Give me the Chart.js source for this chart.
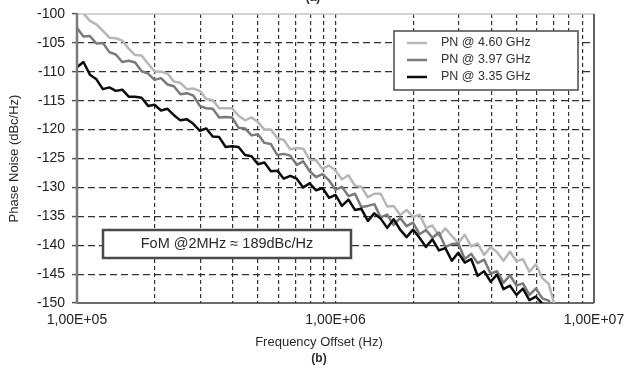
<!DOCTYPE html>
<html>
<head>
<meta charset="utf-8">
<title>Phase Noise vs Frequency Offset</title>
<script src="https://cdn.jsdelivr.net/npm/chart.js@4.4.1/dist/chart.umd.min.js"></script>
<style>
  html, body { margin: 0; padding: 0; background: #fff; }
  #wrap { position: relative; width: 626px; height: 370px; }
</style>
</head>
<body>
<div id="wrap"><canvas id="pnChart"></canvas></div>
<script>
'use strict';

/* ─────────────────────────────────────────────────
   DATA (40 pts / decade)
───────────────────────────────────────────────── */
const freqs = [
  100000, 105900, 112200, 118900, 125900, 133400, 141300, 149600, 158500, 167900,
  177800, 188400, 199500, 211300, 223900, 237100, 251200, 266100, 281800, 298500,
  316200, 335000, 354800, 375800, 398100, 421700, 446700, 473200, 501200, 530900,
  562300, 595700, 631000, 668300, 707900, 749900, 794300, 841400, 891300, 944100,
  1000000, 1059000, 1122000, 1189000, 1259000, 1334000, 1413000, 1496000, 1585000, 1679000,
  1778000, 1884000, 1995000, 2113000, 2239000, 2371000, 2512000, 2661000, 2818000, 2985000,
  3162000, 3350000, 3548000, 3758000, 3981000, 4217000, 4467000, 4732000, 5012000, 5309000,
  5623000, 5957000, 6310000, 6683000, 7079000
];

// PN @ 4.60 GHz (dBc/Hz)
const pn460 = [
  -99.0, -99.9, -101.2, -101.8, -102.9, -104.1, -104.2, -104.6, -106.0, -107.1,
  -107.2, -108.6, -109.9, -110.0, -110.3, -111.7, -111.9, -113.0, -112.9, -113.3,
  -114.7, -114.9, -116.3, -116.3, -116.3, -117.6, -118.4, -117.9, -118.7, -120.0,
  -120.0, -121.5, -121.8, -123.4, -123.2, -123.3, -125.2, -125.3, -126.8, -126.2,
  -127.1, -128.6, -127.9, -129.7, -129.9, -131.7, -131.1, -131.1, -133.3, -133.2,
  -134.8, -133.9, -135.1, -134.7, -137.0, -136.6, -138.4, -137.1, -138.4, -139.6,
  -138.2, -140.2, -139.7, -141.7, -140.3, -141.2, -142.7, -141.1, -142.8, -142.4,
  -144.6, -143.3, -145.7, -146.7, -150.8
];

// PN @ 3.97 GHz (dBc/Hz)
const pn397 = [
  -102.4, -103.9, -103.8, -105.1, -105.0, -106.6, -107.0, -108.3, -108.1, -108.4,
  -109.9, -110.3, -111.4, -111.1, -112.2, -112.5, -113.9, -113.7, -114.1, -115.9,
  -116.3, -116.4, -117.9, -117.8, -117.9, -119.7, -119.8, -121.0, -120.8, -122.3,
  -122.5, -124.4, -124.2, -124.5, -126.1, -125.5, -127.2, -128.2, -127.7, -128.8,
  -130.4, -129.9, -131.5, -131.1, -133.4, -133.2, -132.9, -135.2, -134.7, -136.5,
  -135.3, -136.7, -136.1, -138.1, -137.4, -138.7, -137.8, -140.3, -139.8, -139.7,
  -142.4, -141.5, -143.1, -142.5, -144.9, -144.5, -146.5, -145.2, -147.0, -146.6,
  -148.6, -147.5, -149.2, -149.6, -151.8
];

// PN @ 3.35 GHz (dBc/Hz)
const pn335 = [
  -109.2, -108.3, -110.5, -111.3, -113.0, -112.7, -113.3, -113.1, -114.3, -114.3,
  -114.5, -115.9, -115.7, -116.7, -116.4, -117.5, -118.4, -118.2, -119.0, -120.2,
  -119.8, -121.2, -121.3, -123.0, -122.9, -123.0, -124.4, -124.6, -126.0, -125.7,
  -127.2, -127.1, -128.5, -128.0, -128.5, -130.0, -129.3, -130.5, -130.1, -131.8,
  -131.3, -133.2, -132.1, -133.9, -133.7, -135.8, -134.5, -135.4, -137.0, -135.5,
  -137.3, -138.6, -137.3, -138.7, -140.3, -139.0, -140.9, -140.5, -142.7, -141.3,
  -143.0, -142.4, -145.3, -144.5, -146.3, -145.1, -147.6, -147.0, -148.6, -147.5,
  -149.5, -148.9, -150.1, -151.0, -152.5
];

const seriesLabels = ['PN @ 4.60 GHz', 'PN @ 3.97 GHz', 'PN @ 3.35 GHz'];
const seriesColors = ['#b6b6b6', '#7a7a7a', '#0c0c0c'];

const xTicks = [
  100000, 200000, 300000, 400000, 500000, 600000, 700000, 800000, 900000,
  1000000, 2000000, 3000000, 4000000, 5000000, 6000000, 7000000, 8000000, 9000000,
  10000000
];
const xLabelValues = [100000, 1000000, 10000000];
const xLabelTexts  = ['1,00E+05', '1,00E+06', '1,00E+07'];

const yMin = -150, yMax = -100, yStep = 5;

const fomText   = 'FoM @2MHz \u2248 189dBc/Hz';
const xTitle    = 'Frequency Offset (Hz)';
const yTitle    = 'Phase Noise (dBc/Hz)';
const panelText = '(b)';

/* ─────────────────────────────────────────────────
   PLUGINS — frame, legend box, FoM note, captions
───────────────────────────────────────────────── */
const FONT = 'Arial, "Liberation Sans", sans-serif';

function seg(ctx, x1, y1, x2, y2, color, w) {
  ctx.strokeStyle = color;
  ctx.lineWidth = w;
  ctx.beginPath();
  ctx.moveTo(x1, y1);
  ctx.lineTo(x2, y2);
  ctx.stroke();
}

const framePlugin = {
  id: 'frame',
  beforeDatasetsDraw(chart) {
    const { ctx, chartArea: a } = chart;
    ctx.save();
    seg(ctx, a.left, a.top, a.right, a.top, '#c6c6c6', 1.5);
    seg(ctx, a.right, a.top, a.right, a.bottom, '#2e2e2e', 1.5);
    seg(ctx, a.left, a.bottom, a.right, a.bottom, '#3a3a3a', 1.5);
    ctx.restore();
  },
  afterDatasetsDraw(chart) {
    const { ctx, chartArea: a } = chart;
    ctx.save();
    seg(ctx, a.left, a.top - 1, a.left, a.bottom + 1, '#7a7a7a', 2.5);
    ctx.restore();
  }
};

const notesPlugin = {
  id: 'notes',
  afterDraw(chart) {
    const { ctx, chartArea: a } = chart;
    ctx.save();

    // legend box (top right)
    const lx = a.right - 200, ly = a.top + 17, lw = 184, lh = 59;
    ctx.fillStyle = '#fff';
    ctx.fillRect(lx, ly, lw, lh);
    ctx.strokeStyle = '#4a4a4a';
    ctx.lineWidth = 1.5;
    ctx.strokeRect(lx, ly, lw, lh);
    ctx.font = '12.5px ' + FONT;
    ctx.textAlign = 'left';
    ctx.textBaseline = 'middle';
    seriesLabels.forEach((label, i) => {
      const y = ly + 12 + i * 17;
      seg(ctx, lx + 13, y, lx + 33, y, seriesColors[i], 2.5);
      ctx.fillStyle = '#333';
      ctx.fillText(label, lx + 47, y);
    });

    // FoM note box
    const fx = a.left + 26, fy = a.top + 216, fw = 248, fh = 28;
    ctx.fillStyle = '#fff';
    ctx.fillRect(fx, fy, fw, fh);
    ctx.strokeStyle = '#4a4a4a';
    ctx.strokeRect(fx, fy, fw, fh);
    ctx.fillStyle = '#2a2a2a';
    ctx.font = '14.5px ' + FONT;
    ctx.textAlign = 'center';
    ctx.fillText(fomText, fx + fw / 2, fy + fh / 2);

    // x-axis title and panel captions
    ctx.font = '13px ' + FONT;
    ctx.fillStyle = '#2a2a2a';
    ctx.fillText(xTitle, a.left + 242, a.bottom + 39);
    ctx.font = 'bold 12px ' + FONT;
    ctx.fillText(panelText, a.left + 242, a.bottom + 56);
    ctx.textBaseline = 'alphabetic';
    ctx.fillText('(a)', a.left + 236, 1);

    ctx.restore();
  }
};

/* ─────────────────────────────────────────────────
   CHART
───────────────────────────────────────────────── */
const seriesData = [pn460, pn397, pn335];

const datasets = seriesData.map((vals, i) => ({
  label: seriesLabels[i],
  data: freqs.map((f, j) => ({ x: f, y: vals[j] })),
  borderColor: seriesColors[i],
  borderWidth: 2.5,
  borderJoinStyle: 'round',
  pointRadius: 0,
  tension: 0,
  fill: false,
  clip: 0,
  order: 3 - i
}));

const edge = (v, list) => list.includes(v);

new Chart(document.getElementById('pnChart'), {
  type: 'line',
  data: { datasets },
  options: {
    responsive: true,
    maintainAspectRatio: false,
    animation: false,
    layout: { padding: { top: 14, right: 32, bottom: 0, left: 0 } },
    plugins: {
      legend: { display: false },
      tooltip: { enabled: false },
      title: { display: false }
    },
    scales: {
      x: {
        type: 'logarithmic',
        min: 100000,
        max: 10000000,
        afterBuildTicks: (scale) => { scale.ticks = xTicks.map(v => ({ value: v })); },
        afterFit: (scale) => {
          scale.height = 67;
          // keep the plot right edge fixed; the last label fits in the padding
          scale.paddingLeft = 0;
          scale.paddingRight = 0;
        },
        ticks: {
          autoSkip: false,
          maxRotation: 0,
          padding: 9,
          color: '#222',
          font: { family: FONT, size: 14 },
          callback: (v) => {
            const k = xLabelValues.indexOf(v);
            return k >= 0 ? xLabelTexts[k] : '';
          }
        },
        grid: {
          drawTicks: false,
          lineWidth: 1.2,
          color: (c) => edge(c.tick && c.tick.value, [100000, 10000000]) ? 'rgba(0,0,0,0)' : '#333'
        },
        border: { display: false, dash: [4, 3] }
      },
      y: {
        type: 'linear',
        min: yMin,
        max: yMax,
        afterFit: (scale) => {
          scale.width = 77;
          scale.paddingTop = 0;
          scale.paddingBottom = 0;
        },
        ticks: {
          stepSize: yStep,
          padding: 7,
          color: '#222',
          font: { family: FONT, size: 14 }
        },
        grid: {
          drawTicks: true,
          tickLength: 5,
          tickWidth: 1.5,
          tickColor: '#555',
          lineWidth: 1.2,
          color: (c) => edge(c.tick && c.tick.value, [yMin, yMax]) ? 'rgba(0,0,0,0)' : '#333'
        },
        border: { display: false, dash: [7, 4] },
        title: {
          display: true,
          text: yTitle,
          color: '#2a2a2a',
          font: { family: FONT, size: 13 },
          padding: { top: 7, bottom: 0 }
        }
      }
    }
  },
  plugins: [framePlugin, notesPlugin]
});
</script>
</body>
</html>
